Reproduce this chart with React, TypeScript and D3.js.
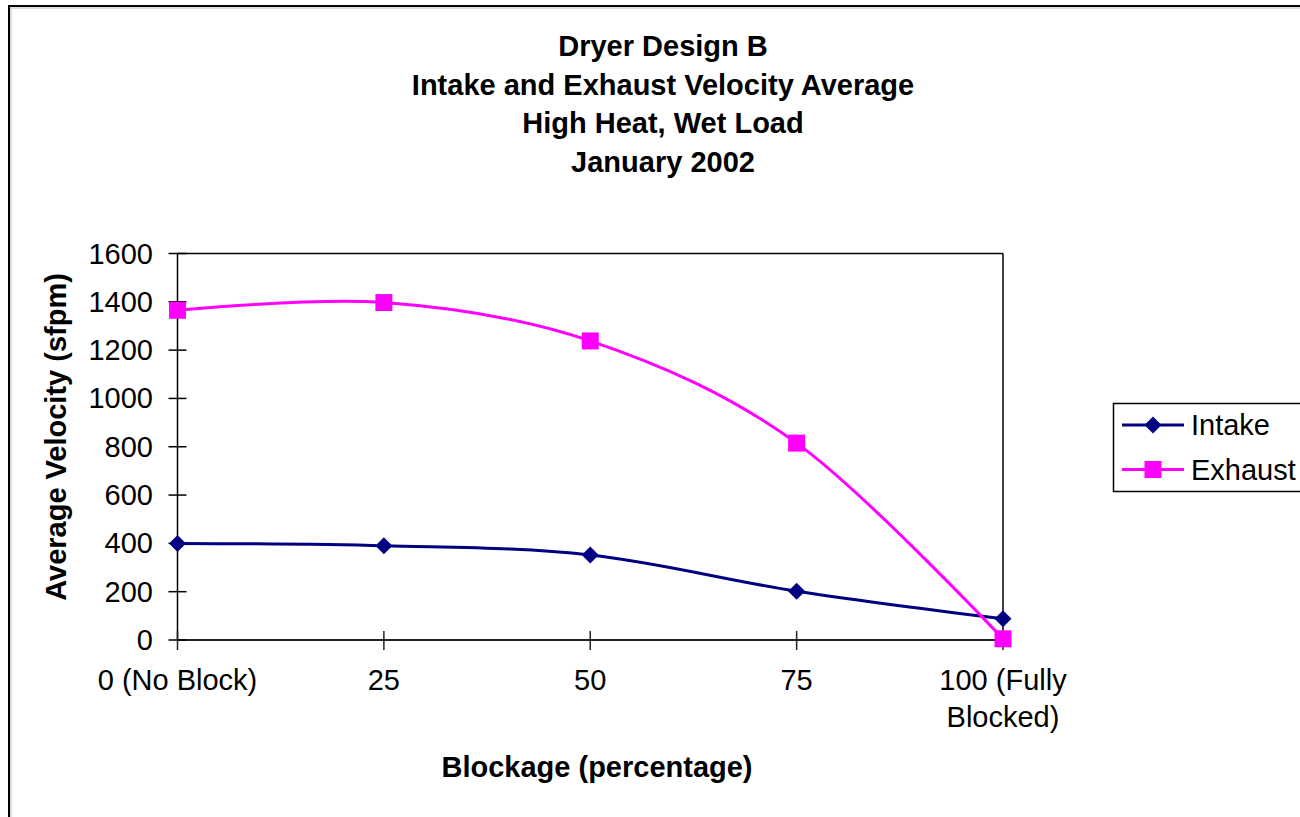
import React from "react";
import * as d3 from "d3";

const categories = ["0 (No Block)", "25", "50", "75", "100 (Fully Blocked)"];
const categoryLines = [["0 (No Block)"], ["25"], ["50"], ["75"], ["100 (Fully", "Blocked)"]];
const intake = [400, 390, 352, 202, 88];
const exhaust = [1365, 1397, 1238, 815, 5];
const yTicks = [0, 200, 400, 600, 800, 1000, 1200, 1400, 1600];
const titleLines = [
  "Dryer Design B",
  "Intake and Exhaust Velocity Average",
  "High Heat, Wet Load",
  "January 2002",
];
const seriesNames = ["Intake", "Exhaust"];
const seriesColors = ["#000080", "#FF00FF"];

const FONT = "'Liberation Sans', Arial, Helvetica, sans-serif";

export default function App() {
  const W = 1300;
  const H = 817;
  const left = 177.5;
  const right = 1003;
  const top = 253.5;
  const bottom = 640;

  const x = d3.scalePoint<string>().domain(categories).range([left, right]);
  const y = d3.scaleLinear().domain([0, 1600]).range([bottom, top]);

  const line = d3
    .line<number>()
    .x((_, i) => x(categories[i]) as number)
    .y((d) => y(d))
    .curve(d3.curveCardinal.tension(0));

  const diamond = (cx: number, cy: number, r: number) =>
    `M${cx},${cy - r}L${cx + r},${cy}L${cx},${cy + r}L${cx - r},${cy}Z`;

  const series = [intake, exhaust];

  return (
    <svg
      width={W}
      height={H}
      style={{ position: "absolute", left: 0, top: 0, background: "#fff" }}
      fontFamily={FONT}
    >
      {/* chart area border */}
      <rect x={9} y={6} width={1400} height={900} fill="none" stroke="#000" strokeWidth={2} />
      <rect x={11} y={8} width={1400} height={900} fill="none" stroke="#bbb" strokeWidth={1} />

      {/* title */}
      {titleLines.map((t, i) => (
        <text key={i} x={663} y={56 + i * 38.5} textAnchor="middle" fontSize={29} fontWeight="bold">
          {t}
        </text>
      ))}

      {/* plot frame */}
      <line x1={left} y1={top} x2={right} y2={top} stroke="#000" strokeWidth={1.5} />
      <line x1={right} y1={top} x2={right} y2={bottom} stroke="#000" strokeWidth={1.5} />
      <line x1={left} y1={top} x2={left} y2={bottom} stroke="#000" strokeWidth={1.5} />
      <line x1={left} y1={bottom} x2={right} y2={bottom} stroke="#222" strokeWidth={2} />

      {/* y ticks */}
      {yTicks.map((t) => (
        <g key={t}>
          <line x1={left - 9} x2={left + 9} y1={y(t)} y2={y(t)} stroke="#000" strokeWidth={1.5} />
          <text x={153} y={y(t) + 10} textAnchor="end" fontSize={29}>
            {t}
          </text>
        </g>
      ))}

      {/* x ticks */}
      {categories.map((c, i) => (
        <g key={c}>
          <line x1={x(c)} x2={x(c)} y1={bottom - 9} y2={bottom + 10} stroke="#222" strokeWidth={1.5} />
          {categoryLines[i].map((l, j) => (
            <text key={j} x={x(c)} y={690 + j * 37} textAnchor="middle" fontSize={29}>
              {l}
            </text>
          ))}
        </g>
      ))}

      {/* axis titles */}
      <text
        transform={`translate(66,437) rotate(-90)`}
        textAnchor="middle"
        fontSize={29}
        fontWeight="bold"
      >
        Average Velocity (sfpm)
      </text>
      <text x={597} y={777} textAnchor="middle" fontSize={29} fontWeight="bold">
        Blockage (percentage)
      </text>

      {/* series */}
      {series.map((s, si) => (
        <g key={si}>
          <path d={line(s) || ""} fill="none" stroke={seriesColors[si]} strokeWidth={3} />
          {s.map((v, i) => {
            const cx = x(categories[i]) as number;
            const cy = y(v);
            return si === 0 ? (
              <path key={i} d={diamond(cx, cy, 8.5)} fill={seriesColors[si]} />
            ) : (
              <rect key={i} x={cx - 8.5} y={cy - 8.5} width={17} height={17} fill={seriesColors[si]} />
            );
          })}
        </g>
      ))}

      {/* legend */}
      <rect x={1113.5} y={403.5} width={300} height={88} fill="#fff" stroke="#000" strokeWidth={1.5} />
      {seriesNames.map((n, i) => {
        const ly = 425 + i * 44.5;
        return (
          <g key={n}>
            <line x1={1122} x2={1184} y1={ly} y2={ly} stroke={seriesColors[i]} strokeWidth={3} />
            {i === 0 ? (
              <path d={diamond(1153, ly, 8.5)} fill={seriesColors[i]} />
            ) : (
              <rect x={1153 - 8.5} y={ly - 8.5} width={17} height={17} fill={seriesColors[i]} />
            )}
            <text x={1191} y={ly + 10} fontSize={29}>
              {n}
            </text>
          </g>
        );
      })}
    </svg>
  );
}
